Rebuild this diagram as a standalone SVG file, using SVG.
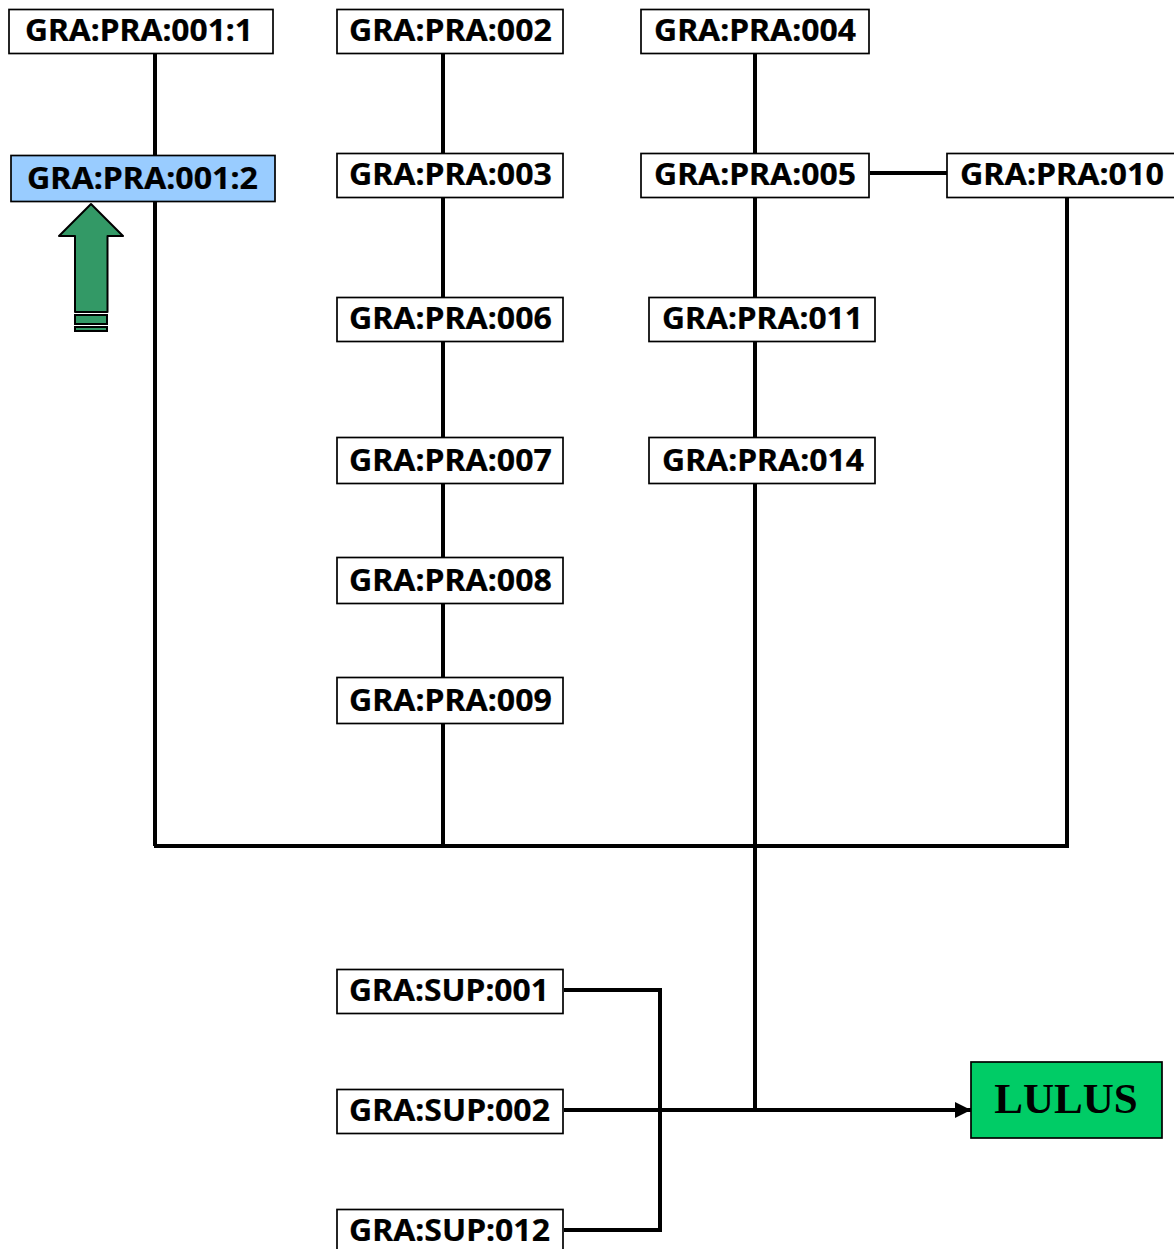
<svg xmlns="http://www.w3.org/2000/svg" width="1174" height="1249" viewBox="0 0 1174 1249">
<style>
.n{fill:#fff;stroke:#000;stroke-width:1.7}
.t{font-family:"Noto Sans","Liberation Sans",sans-serif;font-weight:700;font-size:30px;fill:#000;stroke:#000;stroke-width:.2}
.c{fill:none;stroke:#000;stroke-width:4}
.g{fill:#339966;stroke:#000;stroke-width:2}
</style>
<defs><marker id="a" markerUnits="userSpaceOnUse" markerWidth="18" markerHeight="18" refX="16" refY="8" orient="auto"><path d="M0 0L16 8L0 16Z" fill="#000"/></marker></defs>
<rect width="1174" height="1249" fill="#fff"/>
<g id="connectors">
<path class="c" d="M155 54V846"/>
<path class="c" d="M443 54V846"/>
<path class="c" d="M755 54V1110"/>
<path class="c" d="M870 173H947"/>
<path class="c" d="M1067 198V846"/>
<path class="c" d="M154 846H1069"/>
<path class="c" d="M564 990H660V1230H564"/>
<path class="c" d="M564 1110H971" marker-end="url(#a)"/>
</g>
<g id="PRA0011"><rect class="n" x="9" y="9.5" width="264" height="44"/><text class="t" x="25" y="41" textLength="228" lengthAdjust="spacingAndGlyphs">GRA:PRA:001:1</text></g>
<g id="PRA0012"><rect class="n" x="11" y="155.5" width="264" height="46" style="fill:#99ccff"/><text class="t" x="27" y="189" textLength="231" lengthAdjust="spacingAndGlyphs">GRA:PRA:001:2</text></g>
<g id="PRA002"><rect class="n" x="337" y="9.5" width="226" height="44"/><text class="t" x="349" y="41" textLength="203" lengthAdjust="spacingAndGlyphs">GRA:PRA:002</text></g>
<g id="PRA003"><rect class="n" x="337" y="153.5" width="226" height="44"/><text class="t" x="349" y="185" textLength="203" lengthAdjust="spacingAndGlyphs">GRA:PRA:003</text></g>
<g id="PRA006"><rect class="n" x="337" y="297.5" width="226" height="44"/><text class="t" x="349" y="329" textLength="203" lengthAdjust="spacingAndGlyphs">GRA:PRA:006</text></g>
<g id="PRA007"><rect class="n" x="337" y="437.5" width="226" height="46"/><text class="t" x="349" y="471" textLength="203" lengthAdjust="spacingAndGlyphs">GRA:PRA:007</text></g>
<g id="PRA008"><rect class="n" x="337" y="557.5" width="226" height="46"/><text class="t" x="349" y="591" textLength="203" lengthAdjust="spacingAndGlyphs">GRA:PRA:008</text></g>
<g id="PRA009"><rect class="n" x="337" y="677.5" width="226" height="46"/><text class="t" x="349" y="711" textLength="203" lengthAdjust="spacingAndGlyphs">GRA:PRA:009</text></g>
<g id="PRA004"><rect class="n" x="641" y="9.5" width="228" height="44"/><text class="t" x="654" y="41" textLength="202" lengthAdjust="spacingAndGlyphs">GRA:PRA:004</text></g>
<g id="PRA005"><rect class="n" x="641" y="153.5" width="228" height="44"/><text class="t" x="654" y="185" textLength="202" lengthAdjust="spacingAndGlyphs">GRA:PRA:005</text></g>
<g id="PRA010"><rect class="n" x="947" y="153.5" width="228" height="44"/><text class="t" x="960" y="185" textLength="204" lengthAdjust="spacingAndGlyphs">GRA:PRA:010</text></g>
<g id="PRA011"><rect class="n" x="649" y="297.5" width="226" height="44"/><text class="t" x="662" y="329" textLength="201" lengthAdjust="spacingAndGlyphs">GRA:PRA:011</text></g>
<g id="PRA014"><rect class="n" x="649" y="437.5" width="226" height="46"/><text class="t" x="662" y="471" textLength="202" lengthAdjust="spacingAndGlyphs">GRA:PRA:014</text></g>
<g id="SUP001"><rect class="n" x="337" y="969.5" width="226" height="44"/><text class="t" x="349" y="1001" textLength="200" lengthAdjust="spacingAndGlyphs">GRA:SUP:001</text></g>
<g id="SUP002"><rect class="n" x="337" y="1089.5" width="226" height="44"/><text class="t" x="349" y="1121" textLength="201" lengthAdjust="spacingAndGlyphs">GRA:SUP:002</text></g>
<g id="SUP012"><rect class="n" x="337" y="1209.5" width="226" height="44"/><text class="t" x="349" y="1241" textLength="201" lengthAdjust="spacingAndGlyphs">GRA:SUP:012</text></g>
<g id="LULUS"><rect x="971" y="1062" width="191" height="76" fill="#00cc66" stroke="#000" stroke-width="1.7"/><text x="1066" y="1112.5" text-anchor="middle" font-family="'Liberation Serif',serif" font-weight="700" font-size="43">LULUS</text></g>
<g id="arrow"><path class="g" stroke-linejoin="round" d="M91 204L123 236H107.500V312H75V236H59Z"/><rect class="g" x="75" y="315" width="32" height="9"/><rect class="g" x="75" y="327" width="32" height="4"/></g>
</svg>
